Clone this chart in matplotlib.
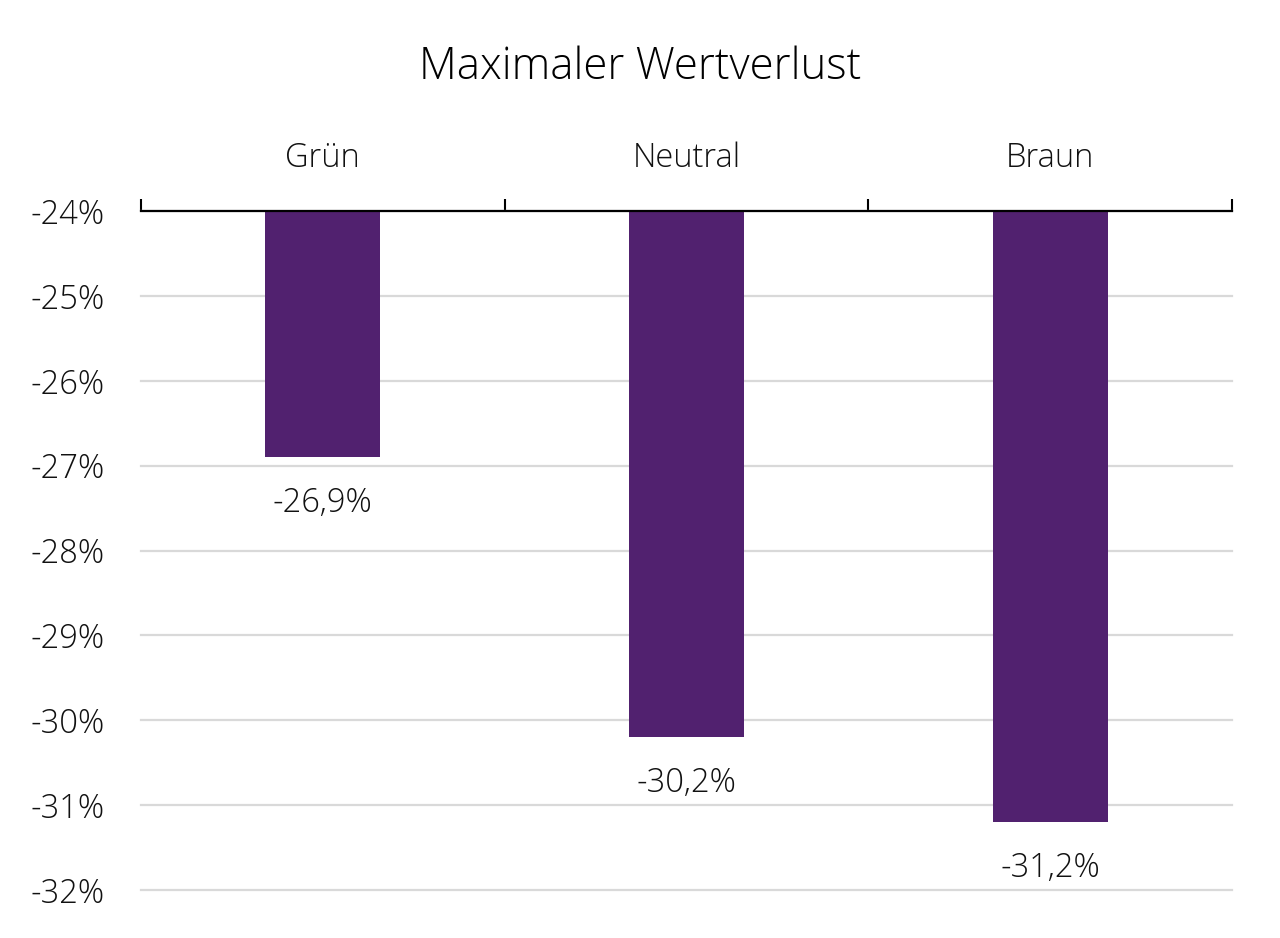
import matplotlib
matplotlib.use("Agg")
import matplotlib.pyplot as plt
from matplotlib.ticker import FuncFormatter, FixedLocator

categories = ["Grün", "Neutral", "Braun"]
values = [-26.9, -30.2, -31.2]
labels = ["-26,9%", "-30,2%", "-31,2%"]
yticks = [-24, -25, -26, -27, -28, -29, -30, -31, -32]
title = "Maximaler Wertverlust"

plt.rcParams['font.family'] = ['Open Sans', 'DejaVu Sans']
W, H = 1280, 938
fig = plt.figure(figsize=(12.8, 9.38), dpi=100)
ax = fig.add_axes([141 / W, 1 - 890 / H, (1232 - 141) / W, (890 - 211) / H])

base = -24
x = list(range(len(categories)))
ax.bar(x, [v - base for v in values], bottom=base, width=0.316, color="#51216F", zorder=3)

FS = 23.5
ax.set_xlim(-0.5, len(categories) - 0.5)
ax.set_ylim(-32, -24)
ax.set_yticks(yticks)
ax.yaxis.set_major_formatter(FuncFormatter(lambda v, p: f"{int(round(v))}%"))
ax.grid(axis='y', color="#D9D9D9", linewidth=1.6, zorder=0)
for gl in ax.get_ygridlines():
    gl.set_clip_on(False)
ax.tick_params(axis='y', length=0, pad=26, labelsize=FS, labelcolor="#111111")
for lab in ax.get_yticklabels():
    lab.set_fontweight('light')

ax.xaxis.tick_top()
ax.set_xticks(x)
ax.set_xticklabels(categories, fontsize=FS, fontweight='light', color="#111111")
ax.xaxis.set_minor_locator(FixedLocator([i - 0.5 for i in range(len(categories) + 1)]))
ax.tick_params(axis='x', which='major', length=0, pad=26)
ax.tick_params(axis='x', which='minor', length=9, width=1.5, color='black', direction='out')

for s in ['left', 'right', 'bottom']:
    ax.spines[s].set_visible(False)
ax.spines['top'].set_linewidth(1.6)
ax.spines['top'].set_color('black')
ax.spines['top'].set_zorder(4)

for xi, v, t in zip(x, values, labels):
    ax.annotate(t, (xi, v), xytext=(0, -33), textcoords='offset points',
                ha='center', va='center', fontsize=FS, fontweight='light', color="#111111")

fig.text(0.5, 1 - 68 / H, title, ha='center', va='center', fontsize=31.5, fontweight='light', color="#000000")

fig.savefig("out.png", dpi=100, facecolor='white')
